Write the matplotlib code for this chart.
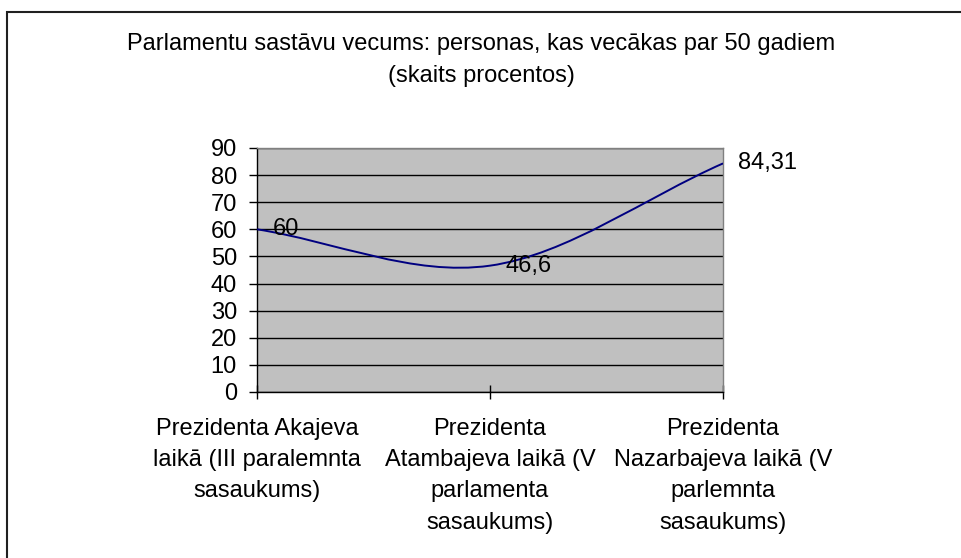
import matplotlib
matplotlib.use('Agg')
import matplotlib.pyplot as plt
from matplotlib.path import Path
from matplotlib.patches import PathPatch, Rectangle
import numpy as np

# Dati (skaits procentos)
CATEGORIES = [
    "Prezidenta Akajeva\nlaikā (III paralemnta\nsasaukums)",
    "Prezidenta\nAtambajeva laikā (V\nparlamenta\nsasaukums)",
    "Prezidenta\nNazarbajeva laikā (V\nparlemnta\nsasaukums)",
]
VALUES = [60, 46.6, 84.31]
VALUE_LABELS = ["60", "46,6", "84,31"]
Y_TICKS = [0, 10, 20, 30, 40, 50, 60, 70, 80, 90]
TITLE = "Parlamentu sastāvu vecums: personas, kas vecākas par 50 gadiem\n(skaits procentos)"

plt.rcParams['font.family'] = ['Liberation Sans', 'DejaVu Sans']
FS = 17


def smooth_path(xs, ys):
    """Excel stila gludinātā līnija (Bezier ar Catmull-Rom pieskarēm)"""
    pts = np.column_stack([xs, ys]).astype(float)
    n = len(pts)
    verts = [pts[0]]
    codes = [Path.MOVETO]
    for i in range(n - 1):
        p_prev = pts[i - 1] if i > 0 else pts[i]
        p_next2 = pts[i + 2] if i + 2 < n else pts[i + 1]
        c1 = pts[i] + (pts[i + 1] - p_prev) / (6 if i > 0 else 3)
        c2 = pts[i + 1] - (p_next2 - pts[i]) / (6 if i + 2 < n else 3)
        verts += [c1, c2, pts[i + 1]]
        codes += [Path.CURVE4] * 3
    return Path(verts, codes)


fig = plt.figure(figsize=(9.62, 5.58), dpi=100)
ax = fig.add_axes([0.2672, 0.2975, 0.4844, 0.4373])

# ārējais rāmis (labā un apakšējā mala ārpus attēla)
fig.patches.append(Rectangle((7 / 962, -0.2), 1.5, 0.2 + (558 - 12) / 558,
                             transform=fig.transFigure, fill=False,
                             edgecolor='#202020', linewidth=1.5))

x = np.arange(len(VALUES))
ax.set_facecolor('#C0C0C0')
ax.add_patch(PathPatch(smooth_path(x, VALUES), facecolor='none',
                       edgecolor='#000080', linewidth=1.4, zorder=3))

for xi, v, lab in zip(x, VALUES, VALUE_LABELS):
    ax.annotate(lab, (xi, v), textcoords='offset points', xytext=(11, 0),
                ha='left', va='center', fontsize=FS, color='black',
                annotation_clip=False)

ax.set_xlim(0, len(VALUES) - 1)
ax.set_ylim(0, 90)
ax.set_yticks(Y_TICKS)
ax.set_yticklabels([str(t) for t in Y_TICKS], fontsize=FS)
ax.set_xticks(x)
ax.set_xticklabels(CATEGORIES, fontsize=FS, linespacing=1.55)
ax.yaxis.grid(True, color='black', linewidth=1.0)
ax.set_axisbelow(True)
ax.tick_params(axis='y', direction='out', length=6, width=1, pad=8.5)
ax.tick_params(axis='x', direction='inout', length=10, width=1, pad=13.5)

for side in ['left', 'bottom']:
    ax.spines[side].set_color('black')
    ax.spines[side].set_linewidth(1.0)
for side in ['top', 'right']:
    ax.spines[side].set_color('#808080')
    ax.spines[side].set_linewidth(1.0)

fig.text(0.5, 1 - 60 / 558, TITLE, ha='center', va='center', fontsize=FS,
         linespacing=1.55)

fig.savefig('out.png', dpi=100)
